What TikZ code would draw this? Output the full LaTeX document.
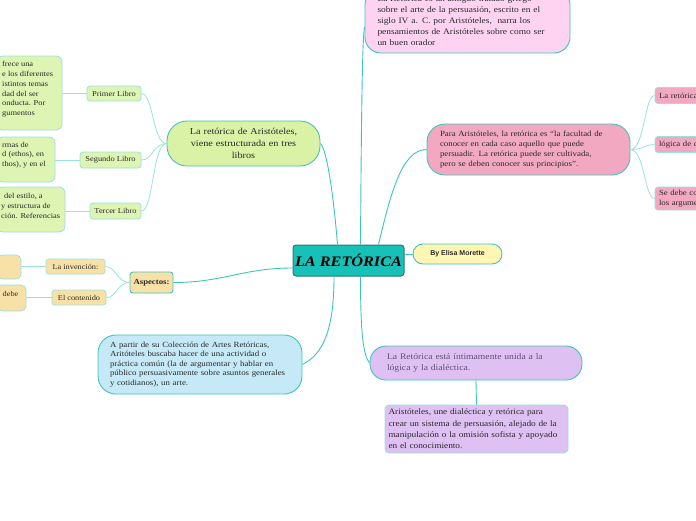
\documentclass[tikz,border=0pt]{standalone}
\usepackage{fontspec}
\setmainfont{Liberation Serif}[FakeStretch=1.12]
\newfontfamily\sansf{Liberation Sans}
\definecolor{tealM}{HTML}{3EC4BE}
\definecolor{tealL}{HTML}{97E2DC}
\definecolor{tealC}{HTML}{17C1B8}
\definecolor{tealD}{HTML}{2B7A74}
\definecolor{pinkL}{HTML}{FDD3F1}
\definecolor{pinkM}{HTML}{F3A8C1}
\definecolor{greenM}{HTML}{D9F2A5}
\definecolor{greenL}{HTML}{DDF4B3}
\definecolor{orangeL}{HTML}{F8E1A6}
\definecolor{blueL}{HTML}{C6E9F8}
\definecolor{purpL}{HTML}{DFC0F3}
\definecolor{yellowL}{HTML}{FFF6B3}
\definecolor{txt}{HTML}{2A2A2A}
\definecolor{ptxt}{HTML}{5E5470}
\tikzset{
  mainbox/.style={draw=tealM, line width=0.9pt, text=txt, inner ysep=0pt},
  subbox/.style={draw=tealL, line width=0.8pt, rounded corners=3pt, text=txt, inner ysep=0pt, inner xsep=0pt},
  plaintext/.style={inner sep=0pt, align=left, text=txt},
  mline/.style={draw=tealM, line width=0.9pt},
  sline/.style={draw=tealL, line width=0.8pt}
}
\begin{document}
\begin{tikzpicture}[x=1pt,y=-1pt]
\useasboundingbox (0,0) rectangle (696,520);
\begin{scope}
\clip (0,0) rectangle (696,520);
% central
\node[draw=tealD, fill=tealC, line width=1pt, rounded corners=3pt, minimum width=111pt, minimum height=31pt, inner sep=0pt, text=black, font=\bfseries\itshape\fontsize{14.5}{16}\selectfont] (c) at (348.5,260.5) {LA RETÓRICA};
\node[draw=tealM, fill=yellowL, line width=0.9pt, rounded corners=10pt, minimum width=89pt, minimum height=20pt, inner sep=0pt, text=txt, font=\sansf\bfseries\fontsize{7}{8}\selectfont] (be) at (457.5,254) {By Elisa Morette};
% top pink
\node[mainbox, fill=pinkL, rounded corners=16pt, minimum height=64pt, text width=180pt, inner xsep=12.5pt, align=left, font=\fontsize{8.4}{11}\selectfont] (tp) at (467.5,21) {La Retórica es un antiguo tratado griego\\ sobre el arte de la persuasión, escrito en el\\ siglo IV a. C. por Aristóteles,\ \ narra los\\ pensamientos de Aristóteles sobre como ser\\ un buen orador};
% right pink
\node[mainbox, fill=pinkM, rounded corners=18pt, minimum height=51pt, text width=177pt, inner xsep=13pt, align=left, font=\fontsize{7.9}{10.2}\selectfont] (rp) at (528.5,149.5) {Para Aristóteles, la retórica es “la facultad de\\ conocer en cada caso aquello que puede\\ persuadir. La retórica puede ser cultivada,\\ pero se deben conocer sus principios”.};
\node[subbox, fill=pinkM, minimum height=16pt, text width=92pt, inner xsep=4pt, align=left, font=\fontsize{7.8}{9.5}\selectfont] (rc1) at (705,95.5) {La retórica};
\node[subbox, fill=pinkM, minimum height=16pt, text width=92pt, inner xsep=4pt, align=left, font=\fontsize{7.8}{9.5}\selectfont] (rc2) at (705,144.5) {lógica de c};
\node[subbox, fill=pinkM, minimum height=23pt, text width=92pt, inner xsep=4pt, align=left, font=\fontsize{7.8}{9.5}\selectfont] (rc3) at (705,198.5) {Se debe co\\ los argume};
% green
\node[mainbox, fill=greenM, rounded corners=20pt, minimum height=45pt, text width=140pt, inner xsep=6.5pt, align=center, font=\fontsize{9.1}{11.8}\selectfont] (gm) at (243.5,143.5) {La retórica de Aristóteles,\\ viene estructurada en tres\\ libros};
\node[subbox, fill=greenL, minimum width=54pt, minimum height=15pt, font=\fontsize{7.5}{8}\selectfont] (pl) at (114,93.5) {Primer Libro};
\node[subbox, fill=greenL, minimum width=61pt, minimum height=16pt, font=\fontsize{7.5}{8}\selectfont] (sl) at (110.5,160) {Segundo Libro};
\node[subbox, fill=greenL, minimum width=51pt, minimum height=16pt, font=\fontsize{7.5}{8}\selectfont] (tl) at (115.5,211) {Tercer Libro};
\node[subbox, fill=greenL, rounded corners=6pt, minimum width=65pt, minimum height=74pt] (lb1) at (29.5,93) {};
\node[plaintext, anchor=north west, font=\fontsize{7.5}{9.8}\selectfont] (lb1t) at (2,61.3) {frece una\\ e los diferentes\\ istintos temas\\ dad del ser\\ onducta. Por\\ gumentos};
\node[subbox, fill=greenL, rounded corners=6pt, minimum width=58pt, minimum height=45pt] (lb2) at (26,159.5) {};
\node[plaintext, anchor=north west, font=\fontsize{7.5}{9.8}\selectfont] (lb2t) at (2,141.6) {rmas de\\ d (ethos), en\\ thos), y en el};
\node[subbox, fill=greenL, rounded corners=6pt, minimum width=68pt, minimum height=45pt] (lb3) at (31,209.5) {};
\node[plaintext, anchor=north west, font=\fontsize{7.5}{9.8}\selectfont] (lb3t) at (1,193.1) {\hspace{3pt}del estilo, a\\ y estructura de\\ ción. Referencias};
% orange
\node[mainbox, fill=orangeL, rounded corners=3pt, minimum width=43pt, minimum height=21pt, inner xsep=0pt, font=\bfseries\fontsize{7.8}{8}\selectfont] (asp) at (151.5,282.5) {Aspectos:};
\node[subbox, fill=orangeL, minimum width=59pt, minimum height=15pt, font=\fontsize{7.4}{8}\selectfont] (inv) at (75.5,266.5) {La invención:};
\node[subbox, fill=orangeL, minimum width=54pt, minimum height=15pt, font=\fontsize{7.4}{8}\selectfont] (cont) at (79,297.5) {El contenido};
\node[subbox, fill=orangeL, rounded corners=5pt, minimum width=24pt, minimum height=24pt] (lo1) at (9,267) {};
\node[subbox, fill=orangeL, rounded corners=5pt, minimum width=29pt, minimum height=26pt] (lo2) at (11.5,298) {};
\node[plaintext, font=\fontsize{7.4}{8}\selectfont] (lo2t) at (10.5,294) {debe};
% blue
\node[mainbox, fill=blueL, rounded corners=18pt, minimum height=59pt, text width=180pt, inner xsep=12pt, align=left, font=\fontsize{7.9}{9.5}\selectfont] (bl) at (200,364.5) {A partir de su Colección de Artes Retóricas,\\ Aritóteles buscaba hacer de una actividad o\\ práctica común (la de argumentar y hablar en\\ público persuasivamente sobre asuntos generales\\ y cotidianos), un arte.};
% purple
\node[mainbox, fill=purpL, rounded corners=16pt, minimum height=34pt, text width=178pt, inner xsep=17pt, align=left, text=ptxt, font=\fontsize{8.6}{11.6}\selectfont] (pm) at (476,363) {La Retórica está íntimamente unida a la\\ lógica y la dialéctica.};
\node[subbox, fill=purpL, rounded corners=4pt, minimum height=48pt, text width=176pt, inner xsep=3.5pt, align=left, font=\fontsize{8.3}{11.3}\selectfont] (pc) at (476.5,429) {Aristóteles, une dialéctica y retórica para\\ crear un sistema de persuasión, alejado de la\\ manipulación o la omisión sofista y apoyado\\ en el conocimiento.};
% main connectors
\draw[mline] ([xshift=-11pt]c.north) .. controls +(-4.5,-55) and +(6,6) .. (gm.east);
\draw[mline] ([xshift=12pt]c.north) .. controls +(1,-150) and +(-2,10) .. ([yshift=-6pt]tp.west);
\draw[mline] ([xshift=30pt]c.north) .. controls +(12,-50) and +(-25,0) .. (rp.west);
\draw[mline] (be.west) -- (be.west -| c.east);
\draw[mline] ([yshift=-7.5pt]c.west) .. controls +(-50,0) and +(50,0) .. (asp.east);
\draw[mline] ([xshift=-14.5pt]c.south) .. controls +(0,55) and +(20,-10) .. (bl.east);
\draw[mline] ([xshift=12pt]c.south) .. controls +(0,60) and +(-6,-8) .. (pm.west);
% sub connectors
\draw[sline] (gm.west) .. controls +(-14,0) and +(12,0) .. (pl.east);
\draw[sline] (gm.west) .. controls +(-14,0) and +(12,0) .. (sl.east);
\draw[sline] (gm.west) .. controls +(-14,0) and +(12,0) .. (tl.east);
\draw[sline] (pl.west) -- (pl.west -| lb1.east);
\draw[sline] (sl.west) -- (sl.west -| lb2.east);
\draw[sline] (tl.west) -- (tl.west -| lb3.east);
\draw[sline] (asp.west) .. controls +(-12,0) and +(10,0) .. (inv.east);
\draw[sline] (asp.west) .. controls +(-12,0) and +(10,0) .. (cont.east);
\draw[sline] (inv.west) -- (inv.west -| lo1.east);
\draw[sline] (cont.west) -- (cont.west -| lo2.east);
\draw[sline] (rp.east) .. controls +(14,0) and +(-10,0) .. (rc1.west);
\draw[sline] (rp.east) .. controls +(14,0) and +(-10,0) .. (rc2.west);
\draw[sline] (rp.east) .. controls +(14,0) and +(-10,0) .. (rc3.west);
\draw[mline] (pm.south) -- (pc.north);
\end{scope}
\end{tikzpicture}
\end{document}
